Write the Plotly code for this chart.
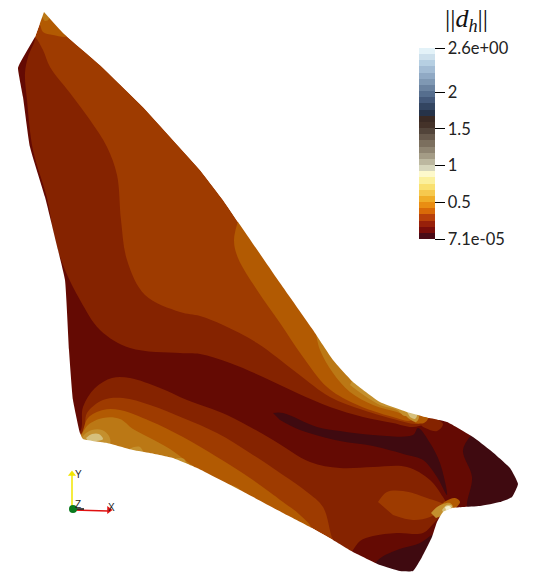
import plotly.graph_objects as go

# Colours of the contour bands, darkest first
C0, C1, C2, C3, C4 = "#3f0a10", "#640a03", "#852300", "#9e3b00", "#b25a02"
C5, C6, C7, C8 = "#bb7815", "#c4902e", "#d6c07c", "#f4f0d0"

# Domain outline (screen x, y)
outline_x = [44, 63, 100, 143, 200, 223, 238, 280, 313, 333, 353, 380, 407, 425, 447, 473, 490, 510, 518, 512, 500, 480,
             463, 452, 443, 437, 432, 422, 413, 400, 380, 353, 333, 310, 283, 240, 197, 173, 150, 133, 107, 83,
             80, 73, 69, 65, 58, 45, 30, 23, 18, 20, 35]
outline_y = [12, 33, 65, 107, 170, 200, 222, 283, 330, 360, 382, 402, 412, 417, 422, 437, 450, 468, 484, 497, 502, 506,
             507, 508, 512, 522, 537, 557, 571, 571, 565, 552, 540, 527, 513, 490, 468, 458, 453, 450, 443, 439,
             433, 400, 350, 280, 250, 197, 147, 97, 68, 63, 37]

# Contour regions: (colour, x values, y values), painted in this order
regions = [
    (C2, [28, 35, 43, 50, 70, 90, 107, 117, 121, 127, 145, 180, 200, 223, 257, 297, 330, 363, 397, 415, 530, 530, 413, 345, 333, 323, 307, 283, 250, 217, 183, 150, 123, 103, 87, 83, 60, 5],
     [33, 37, 50, 67, 93, 120, 147, 175, 220, 260, 295, 312, 316, 325, 343, 373, 397, 410, 420, 424, 420, 590, 590, 560, 540, 507, 492, 475, 453, 433, 418, 405, 398, 400, 413, 432, 445, 60]),
    (C3, [378, 387, 403, 427, 445, 430, 413, 393], [502, 492, 491, 498, 506, 517, 520, 515]),
    (C4, [240, 234, 238, 257, 280, 303, 327, 353, 393, 412, 425, 300, 245], [215, 240, 258, 290, 323, 357, 387, 403, 417, 420, 395, 240, 205]),
    (C4, [75, 82, 88, 103, 120, 150, 183, 217, 250, 283, 300, 312, 300, 70], [445, 433, 418, 410, 410, 421, 437, 457, 478, 502, 515, 530, 545, 460]),
    (C4, [36, 40, 43, 53, 67, 44], [18, 25, 32, 35, 36, 5]),
    (C5, [312, 315, 320, 333, 350, 373, 397, 412, 420, 330], [322, 330, 350, 373, 392, 405, 412, 417, 395, 320]),
    (C5, [75, 82, 88, 103, 120, 133, 150, 170, 193, 217, 240, 230, 70], [445, 434, 425, 418, 419, 429, 438, 449, 466, 480, 490, 500, 460]),
    (C5, [38, 42, 45, 49, 46, 44], [14, 17, 21, 19, 12, 5]),
    (C6, [350, 365, 380, 397, 405, 420, 400, 355], [385, 396, 405, 410, 416, 405, 395, 375]),
    (C6, [78, 84, 92, 102, 109, 110, 100, 78], [445, 435, 430, 430, 436, 444, 448, 450]),
    (C6, [126, 134, 140, 143, 135], [451, 447, 447, 453, 456]),
    (C6, [172, 178, 184, 187, 180], [460, 458, 459, 468, 468]),
    (C1, [30, 35, 28, 25, 27, 33, 47, 55, 65, 80, 100, 130, 180, 200, 230, 263, 297, 330, 363, 393, 413, 440, 530, 530, 470, 458, 448, 443, 430, 407, 373, 340, 310, 273, 227, 187, 160, 130, 112, 95, 83, 80, 60, 5],
     [33, 37, 57, 73, 100, 150, 198, 240, 270, 300, 330, 348, 353, 354, 363, 377, 393, 407, 417, 423, 427, 420, 415, 525, 520, 512, 505, 497, 480, 467, 467, 468, 462, 440, 415, 400, 388, 378, 378, 388, 407, 432, 445, 60]),
    (C1, [345, 353, 360, 373, 397, 423, 435, 447, 445, 425, 350], [560, 550, 541, 536, 533, 533, 522, 512, 580, 590, 575]),
    (C0, [273, 283, 317, 340, 373, 413, 418, 430, 440, 447, 437, 423, 407, 373, 340, 300, 280], [413, 413, 427, 431, 435, 435, 428, 443, 463, 495, 477, 460, 455, 446, 441, 430, 420]),
    (C0, [473, 463, 472, 468, 493, 530, 530, 490], [433, 450, 477, 510, 515, 510, 460, 430]),
    (C0, [370, 378, 397, 420, 432, 445, 425, 380], [575, 560, 550, 543, 535, 530, 585, 585]),
    (C2, [418, 433, 443, 437, 423], [422, 418, 424, 431, 427]),
    (C4, [412, 420, 428, 424, 415], [413, 414, 418, 423, 423]),
    (C4, [438, 446, 455, 460, 453, 444], [508, 501, 498, 502, 510, 516]),
    (C6, [431, 437, 443, 450, 453, 445, 436], [513, 507, 504, 503, 507, 514, 518]),
    (C6, [400, 406, 415, 419, 416, 408], [409, 408, 411, 417, 422, 418]),
    (C7, [86, 92, 99, 103, 97, 88], [438, 434, 434, 439, 441, 441]),
    (C7, [407, 412, 417, 415, 410], [412, 412, 415, 419, 417]),
    (C7, [442, 447, 452, 449, 444], [510, 505, 506, 511, 514]),
    (C8, [445, 449, 451, 446], [507, 506, 508, 510]),
]

# Colour bar: 31 flat steps, lowest first
bar_colors = ["#4a0a16", "#7a0d0a", "#98200a", "#b8400a", "#d96a08", "#e98d12", "#f0ad28", "#f6c94e", "#f9e070", "#fbf09c",
              "#fdf9cc", "#d6d6bc", "#bcb8a0", "#a49c86", "#8f8572", "#7b6f5e", "#67594c", "#52443a", "#443229", "#3a2a24",
              "#263349", "#334561", "#44597a", "#566e8e", "#6b83a0", "#7f98b3", "#90a9c4", "#a3bcd4", "#b6cfe2", "#cde0ec", "#e3f2f8"]
bar_min, bar_max = 7.1e-05, 2.6
tick_vals = [7.1e-05, 0.5, 1, 1.5, 2, 2.6]
tick_text = ["7.1e-05", "0.5", "1", "1.5", "2", "2.6e+00"]

colorscale = []
for i, c in enumerate(bar_colors):
    colorscale.append([i / len(bar_colors), c])
    colorscale.append([(i + 1) / len(bar_colors), c])

fig = go.Figure()

fig.add_trace(go.Scatter(x=outline_x, y=outline_y, mode="lines", fill="toself", fillcolor=C3,
                         line=dict(width=0), hoverinfo="skip"))
for color, xs, ys in regions:
    fig.add_trace(go.Scatter(x=xs, y=ys, mode="lines", fill="toself", fillcolor=color,
                             line=dict(width=0, shape="spline", smoothing=1), hoverinfo="skip"))

# White cover round the domain trims the regions to the outline
fig.add_trace(go.Scatter(x=[-5, -5, 542, 542, None] + outline_x, y=[-5, 588, 588, -5, None] + outline_y,
                         mode="lines", fill="toself", fillcolor="white",
                         line=dict(width=0, shape="spline", smoothing=0.4), hoverinfo="skip"))

# Orientation triad
fig.add_trace(go.Scatter(x=[72, 72], y=[509, 472], mode="lines", line=dict(color="#f2e600", width=1.5), hoverinfo="skip"))
fig.add_trace(go.Scatter(x=[72], y=[474], mode="markers", marker=dict(symbol="triangle-up", size=7, color="#f2e600"), hoverinfo="skip"))
fig.add_trace(go.Scatter(x=[73, 108], y=[510, 511], mode="lines", line=dict(color="#e01010", width=1.5), hoverinfo="skip"))
fig.add_trace(go.Scatter(x=[73, 84], y=[509, 509], mode="lines", line=dict(color="#111111", width=1.5), hoverinfo="skip"))
fig.add_trace(go.Scatter(x=[109], y=[510], mode="markers", marker=dict(symbol="triangle-right", size=7, color="#e01010"), hoverinfo="skip"))
fig.add_trace(go.Scatter(x=[73], y=[509], mode="markers", marker=dict(size=8, color="#0b7a1e"), hoverinfo="skip"))

# Hidden trace that carries the colour bar
fig.add_trace(go.Scatter(
    x=[-50, -50], y=[-50, -50], mode="markers",
    marker=dict(color=[bar_min, bar_max], cmin=bar_min, cmax=bar_max, colorscale=colorscale, showscale=True,
                colorbar=dict(x=419 / 537, xanchor="left", y=1 - 48 / 583, yanchor="top",
                              lenmode="pixels", len=191, thicknessmode="pixels", thickness=16,
                              xpad=0, ypad=0, outlinewidth=0, ticks="outside", ticklen=10, tickwidth=1,
                              tickcolor="black", tickvals=tick_vals, ticktext=tick_text,
                              tickfont=dict(family="Lato", size=16.5, color="#222222"))),
    hoverinfo="skip"))

triad_labels = [("Y", 78, 474), ("X", 111, 507), ("Z", 78, 504)]
for label, lx, ly in triad_labels:
    fig.add_annotation(x=lx, y=ly, text=label, showarrow=False, font=dict(family="Liberation Sans", size=10, color="#222222"))
fig.add_annotation(x=466, y=20, text="||<i>d<sub>h</sub></i>||", showarrow=False,
                   font=dict(family="Liberation Serif", size=26, color="#111111"))

fig.update_layout(
    width=537, height=583, showlegend=False,
    margin=dict(l=0, r=0, t=0, b=0),
    paper_bgcolor="white", plot_bgcolor="white",
    xaxis=dict(range=[0, 537], visible=False, domain=[0, 1]),
    yaxis=dict(range=[583, 0], visible=False, domain=[0, 1]),
)

fig.write_html("out.html", config=dict(displayModeBar=False), post_script="document.body.style.margin='0';")
